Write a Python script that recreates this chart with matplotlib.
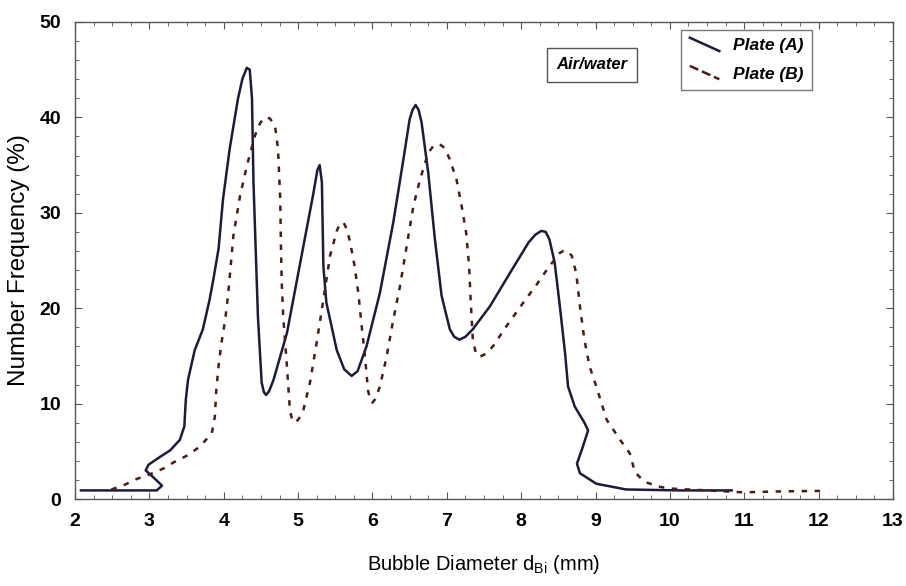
import matplotlib
matplotlib.use("Agg")
import matplotlib.pyplot as plt
from matplotlib.ticker import MultipleLocator
from matplotlib.legend_handler import HandlerBase
from matplotlib.lines import Line2D

plt.rcParams["font.family"] = ["Liberation Sans", "DejaVu Sans"]

# --- donnees ---
plate_a_x = [2.08, 3.10, 3.17, 3.05, 2.95, 2.99, 3.14, 3.28, 3.41, 3.47, 3.49, 3.52,
             3.61, 3.72, 3.81, 3.86, 3.93, 3.99, 4.08, 4.19, 4.25, 4.31, 4.35, 4.38,
             4.40, 4.46, 4.51, 4.54, 4.57, 4.61, 4.67, 4.85, 5.02, 5.20, 5.26, 5.29,
             5.32, 5.34, 5.38, 5.52, 5.62, 5.72, 5.80, 5.92, 6.10, 6.28, 6.41, 6.50,
             6.54, 6.58, 6.62, 6.66, 6.75, 6.84, 6.93, 7.04, 7.10, 7.17, 7.25, 7.35,
             7.58, 7.85, 8.10, 8.19, 8.27, 8.33, 8.38, 8.45, 8.52, 8.59, 8.63, 8.72,
             8.85, 8.90, 8.83, 8.75, 8.79, 9.01, 9.41, 10.13, 10.83]
plate_a_y = [0.9, 0.9, 1.4, 2.3, 3.0, 3.6, 4.4, 5.1, 6.2, 7.6, 10.4, 12.5,
             15.6, 17.8, 20.9, 23.0, 26.2, 31.4, 36.7, 41.9, 44.0, 45.2, 45.0, 42.0,
             33.2, 19.1, 12.2, 11.2, 10.9, 11.3, 12.5, 17.4, 24.4, 31.8, 34.5, 35.0,
             33.2, 24.4, 20.6, 15.6, 13.6, 12.9, 13.4, 16.0, 21.6, 29.0, 35.3, 39.8,
             40.8, 41.3, 40.8, 39.5, 34.2, 27.2, 21.3, 17.8, 17.0, 16.7, 17.0, 17.8,
             20.2, 23.7, 26.9, 27.7, 28.1, 28.0, 27.2, 24.8, 20.2, 15.3, 11.8, 9.7,
             8.0, 7.2, 5.5, 3.7, 2.7, 1.6, 1.0, 0.9, 0.9]

plate_b_x = [2.49, 2.67, 2.83, 3.01, 3.19, 3.34, 3.52, 3.68, 3.84, 3.88, 3.90, 3.93,
             3.97, 4.02, 4.06, 4.13, 4.22, 4.31, 4.42, 4.49, 4.55, 4.62, 4.69, 4.73,
             4.76, 4.77, 4.78, 4.80, 4.85, 4.89, 4.92, 4.96, 5.01, 5.07, 5.16, 5.25,
             5.34, 5.43, 5.52, 5.56, 5.61, 5.66, 5.70, 5.76, 5.81, 5.85, 5.90, 5.94,
             5.97, 6.00, 6.04, 6.10, 6.19, 6.28, 6.37, 6.46, 6.55, 6.64, 6.75, 6.82,
             6.90, 6.97, 7.04, 7.13, 7.20, 7.26, 7.30, 7.32, 7.35, 7.39, 7.44, 7.52,
             7.62, 7.80, 8.03, 8.21, 8.36, 8.52, 8.57, 8.62, 8.68, 8.74, 8.79, 8.85,
             8.92, 9.01, 9.15, 9.33, 9.46, 9.53, 9.66, 9.85, 10.0, 10.5, 10.98, 11.5,
             12.07]
plate_b_y = [1.0, 1.5, 2.1, 2.6, 3.2, 3.9, 4.6, 5.5, 6.9, 8.6, 11.4, 13.9,
             16.4, 18.8, 21.5, 27.6, 31.8, 34.9, 38.1, 39.4, 40.0, 39.9, 39.1, 36.7,
             31.4, 26.2, 22.7, 19.1, 13.9, 9.3, 8.3, 8.0, 8.4, 9.3, 12.2, 16.4,
             20.9, 25.5, 28.1, 28.8, 29.0, 28.2, 26.9, 24.4, 21.6, 18.5, 14.9, 11.4,
             10.4, 10.1, 10.5, 11.8, 14.9, 18.8, 22.3, 26.5, 30.7, 33.5, 36.3, 37.0,
             37.2, 36.8, 35.6, 33.5, 30.7, 27.9, 24.4, 20.9, 16.7, 15.3, 14.9, 15.2,
             16.0, 18.1, 20.6, 22.5, 24.2, 25.8, 26.0, 26.0, 25.5, 23.7, 20.2, 16.7,
             13.9, 11.8, 8.3, 6.2, 4.8, 2.8, 1.8, 1.3, 1.1, 0.9, 0.7, 0.8,
             0.85]


class SlantHandler(HandlerBase):
    """Trait de legende incline, comme sur l'original."""
    def create_artists(self, legend, orig, xdescent, ydescent, width, height,
                       fontsize, trans):
        ln = Line2D([-xdescent, -xdescent + width],
                    [height * 1.05, -ydescent - height * 0.05],
                    color=orig.get_color(), lw=orig.get_linewidth(),
                    ls=orig.get_linestyle())
        ln.set_transform(trans)
        return [ln]


fig = plt.figure(figsize=(9.06, 5.86), dpi=100)
ax = fig.add_axes([75 / 906, 1 - 499 / 586, (893 - 75) / 906, (499 - 22) / 586])

line_a, = ax.plot(plate_a_x, plate_a_y, color="#1b1b3d", lw=1.8, label="Plate (A)",
                  solid_joinstyle="round")
line_b, = ax.plot(plate_b_x, plate_b_y, color="#4a1c14", lw=1.8, ls=(0, (2.2, 3.0)),
                  label="Plate (B)")

ax.set_xlim(2, 13)
ax.set_ylim(0, 50)
ax.xaxis.set_major_locator(MultipleLocator(1))
ax.xaxis.set_minor_locator(MultipleLocator(0.25))
ax.yaxis.set_major_locator(MultipleLocator(10))
ax.yaxis.set_minor_locator(MultipleLocator(2))
ax.tick_params(which="both", direction="in", top=True, right=True, color="#555555")
ax.tick_params(which="major", length=5, width=0.8, labelsize=14)
ax.tick_params(axis="x", which="major", pad=10)
ax.tick_params(axis="y", which="major", pad=10)
ax.tick_params(which="minor", length=3, width=0.6)
for lab in ax.get_xticklabels() + ax.get_yticklabels():
    lab.set_fontweight("bold")
for s in ax.spines.values():
    s.set_color("#555555")
    s.set_linewidth(1.0)

ax.set_xlabel(r"Bubble Diameter d$_{\mathregular{Bi}}$ (mm)", fontsize=14.5, labelpad=17)
ax.set_ylabel("Number Frequency (%)", fontsize=17.5, labelpad=7)

ax.text(0.632, 0.91, "Air/water", transform=ax.transAxes, ha="center", va="center",
        fontsize=12, fontweight="bold", style="italic",
        bbox=dict(boxstyle="square,pad=0.55", fc="white", ec="#555555", lw=1.0))

leg = ax.legend(handles=[line_a, line_b], loc="upper left",
                bbox_to_anchor=(0.741, 0.984), borderaxespad=0, frameon=True,
                fancybox=False, edgecolor="#555555", handlelength=1.7,
                handler_map={Line2D: SlantHandler()},
                prop=dict(size=12.5, weight="bold", style="italic"),
                borderpad=0.5, labelspacing=0.75, handletextpad=0.8)
leg.get_frame().set_linewidth(1.0)

fig.savefig("out.png", dpi=100)
